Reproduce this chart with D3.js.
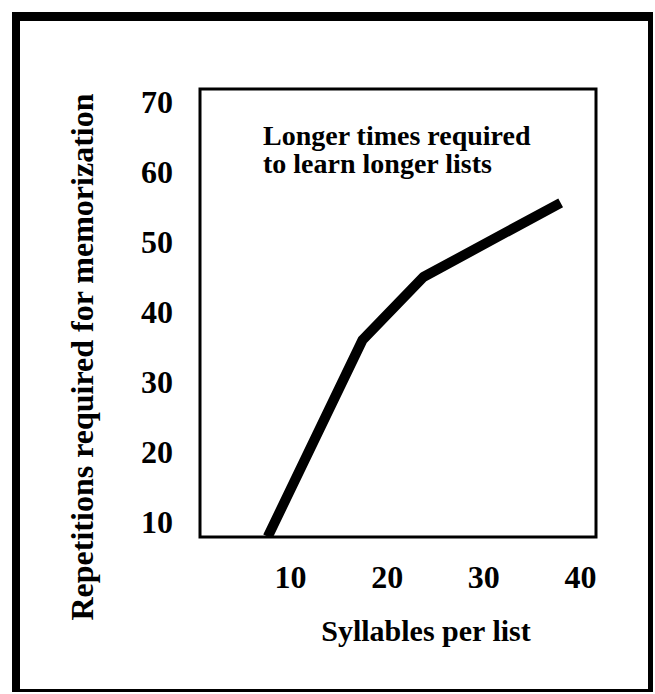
<!DOCTYPE html>
<html>
<head>
<meta charset="utf-8">
<script src="https://cdn.jsdelivr.net/npm/d3@7"></script>
<style>
  html, body { margin: 0; padding: 0; background: #fff; }
  text { font-family: "Liberation Serif", "Times New Roman", serif; font-weight: bold; fill: #000; }
</style>
</head>
<body>
<svg id="chart"></svg>
<script>
// data
var syllables = [7.7, 17.5, 23.8, 38];
var repetitions = [7.9, 36, 45, 55.6];
var xTicks = [10, 20, 30, 40];
var yTicks = [10, 20, 30, 40, 50, 60, 70];
var xTitle = 'Syllables per list';
var yTitle = 'Repetitions required for memorization';
var noteLines = ['Longer times required', 'to learn longer lists'];

var svgDimensions = { width: 655, height: 694 };
var box = { left: 200, top: 89, right: 596, bottom: 537 };

var svg = d3.select('#chart')
	.attr('width', svgDimensions.width)
	.attr('height', svgDimensions.height);

svg.append('rect')
	.attr('width', svgDimensions.width)
	.attr('height', svgDimensions.height)
	.attr('fill', '#fff');

// outer frame, heavier on top and left
var frame = [
	{ x: 12, y: 12, w: 641, h: 9 },
	{ x: 12, y: 12, w: 8, h: 680 },
	{ x: 648, y: 12, w: 5, h: 680 },
	{ x: 12, y: 689, w: 641, h: 3 }
];
svg.selectAll('rect.frame')
	.data(frame)
	.enter()
	.append('rect')
	.attr('class', 'frame')
	.attr('x', d => d.x)
	.attr('y', d => d.y)
	.attr('width', d => d.w)
	.attr('height', d => d.h)
	.attr('fill', '#000');

var x = d3.scaleLinear().domain([10, 40]).range([290, 580]);
var y = d3.scaleLinear().domain([10, 70]).range([522, 102]);

// plot box
svg.append('rect')
	.attr('x', box.left)
	.attr('y', box.top)
	.attr('width', box.right - box.left)
	.attr('height', box.bottom - box.top)
	.attr('fill', 'none')
	.attr('stroke', '#000')
	.attr('stroke-width', 3);

svg.append('clipPath')
	.attr('id', 'plotClip')
	.append('rect')
	.attr('x', box.left)
	.attr('y', box.top)
	.attr('width', box.right - box.left)
	.attr('height', box.bottom - box.top);

var points = syllables.map((s, i) => [s, repetitions[i]]);
var line = d3.line()
	.x(d => x(d[0]))
	.y(d => y(d[1]));

svg.append('path')
	.datum(points)
	.attr('d', line)
	.attr('clip-path', 'url(#plotClip)')
	.attr('fill', 'none')
	.attr('stroke', '#000')
	.attr('stroke-width', 10)
	.attr('stroke-linejoin', 'round')
	.attr('stroke-linecap', 'butt');

// axes: labels only
var yAxis = svg.append('g')
	.attr('transform', 'translate(' + box.left + ',0)')
	.call(d3.axisLeft(y).tickValues(yTicks).tickSize(0).tickPadding(27));
var xAxis = svg.append('g')
	.attr('transform', 'translate(0,' + box.bottom + ')')
	.call(d3.axisBottom(x).tickValues(xTicks).tickSize(0).tickPadding(28));
[yAxis, xAxis].forEach(g => {
	g.select('.domain').remove();
	g.selectAll('text')
		.attr('font-family', '"Liberation Serif", "Times New Roman", serif')
		.attr('font-weight', 'bold')
		.attr('font-size', 32)
		.attr('fill', '#000');
});

// axis titles
svg.append('text')
	.attr('x', 426)
	.attr('y', 641)
	.attr('text-anchor', 'middle')
	.attr('font-size', 30)
	.text(xTitle);

svg.append('text')
	.attr('transform', 'translate(93,357) rotate(-90)')
	.attr('text-anchor', 'middle')
	.attr('font-size', 32)
	.text(yTitle);

// annotation
svg.append('text')
	.attr('font-size', 28)
	.selectAll('tspan')
	.data(noteLines)
	.enter()
	.append('tspan')
	.attr('x', 263)
	.attr('y', (d, i) => 145 + i * 28)
	.text(d => d);
</script>
</body>
</html>
